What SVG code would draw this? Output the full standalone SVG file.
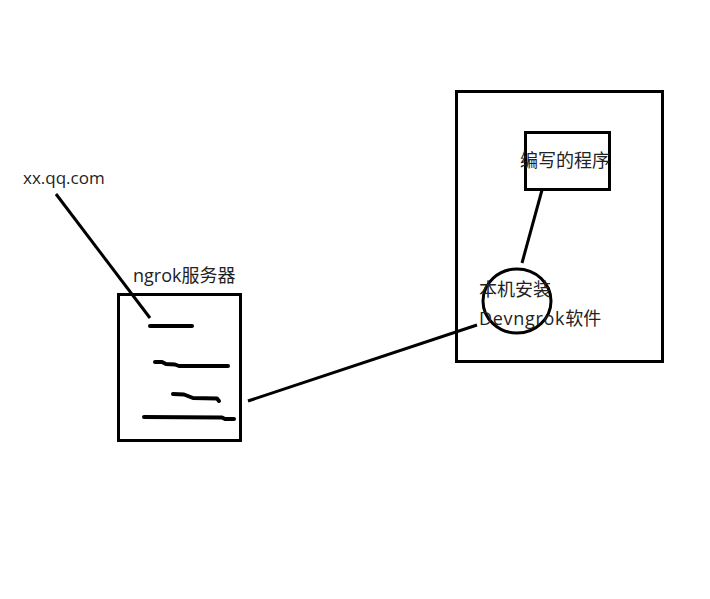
<svg xmlns="http://www.w3.org/2000/svg" width="710" height="599" viewBox="0 0 710 599">
<style>
text{font-family:"Noto Sans CJK SC","Open Sans","Noto Sans",sans-serif;font-size:18px;fill:#222}
.l{font-family:"Open Sans","Noto Sans CJK SC",sans-serif}
.b{fill:none;stroke:#000;stroke-width:3}
.c{fill:none;stroke:#000;stroke-width:3;stroke-linecap:butt}
.s{fill:none;stroke:#000;stroke-width:4;stroke-linecap:round;stroke-linejoin:round}
</style>
<rect width="710" height="599" fill="#fff"/>
<g id="connectors">
<path class="c" d="M56 194L150 318"/>
<path class="c" d="M248 401L477 325"/>
<path class="c" d="M542 190L522 263"/>
</g>
<g id="client"><text class="l" x="23" y="184" style="font-size:17px">xx.qq.com</text></g>
<g id="server">
<rect class="b" x="118.500" y="294.500" width="122" height="146"/>
<path class="s" d="M150 326H192"/>
<path class="s" d="M155 362L162 362L166 364L175 364.500L179 366H228"/>
<path class="s" d="M173 394L184 394.500L193 398L217 398.500L219 401"/>
<path class="s" d="M144 417L222 417.500L225 419H234"/>
<text class="l" x="133" y="282">ngrok服务器</text>
</g>
<g id="host"><rect class="b" x="456.500" y="91.500" width="206" height="270"/></g>
<g id="program">
<rect class="b" x="525.500" y="132.500" width="84" height="57"/>
<text x="520" y="167">编写的程序</text>
</g>
<g id="software">
<ellipse class="b" cx="517" cy="301" rx="34" ry="32"/>
<text x="479" y="296">本机安装</text>
<text class="l" x="479" y="325"><tspan letter-spacing="0.700">Devngrok</tspan>软件</text>
</g>
</svg>
